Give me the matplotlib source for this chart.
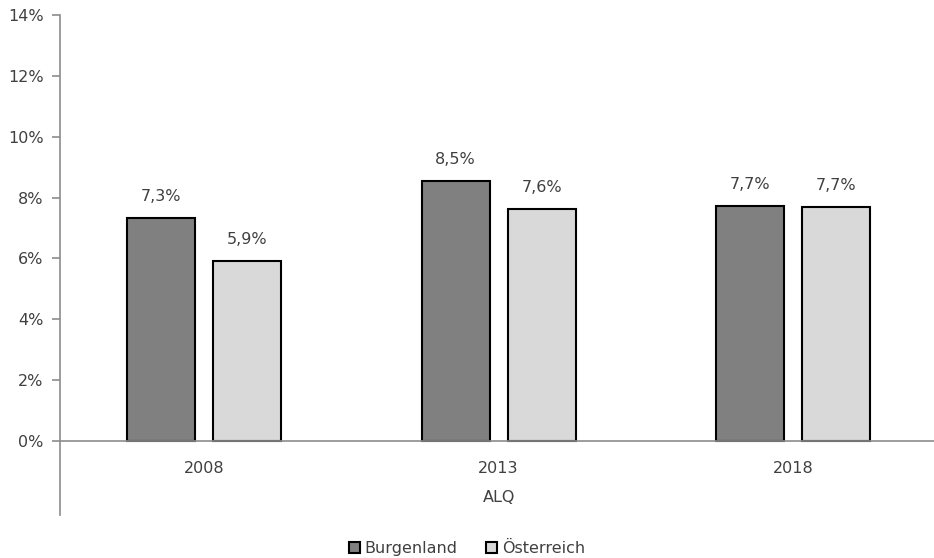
import matplotlib.pyplot as plt
import numpy as np

years = ['2008', '2013', '2018']
burgenland = [7.33, 8.54, 7.74]
oesterreich = [5.93, 7.62, 7.69]
series_names = ['Burgenland', 'Österreich']
axis_title = 'ALQ'

plt.rcParams['font.family'] = ['DejaVu Sans']

fig = plt.figure(figsize=(9.34, 5.58), dpi=100)
ax = fig.add_axes([0.0645, 0.0771, 0.9355, 0.896])

x = np.arange(len(years))
w = 0.231
off = 0.146
b1 = ax.bar(x - off, burgenland, w, color='#808080', edgecolor='black', linewidth=1.5,
            label=series_names[0], zorder=3)
b2 = ax.bar(x + off, oesterreich, w, color='#d9d9d9', edgecolor='black', linewidth=1.5,
            label=series_names[1], zorder=3)

# value labels
for bars, vals in ((b1, burgenland), (b2, oesterreich)):
    for r, v in zip(bars, vals):
        txt = ('%.1f%%' % v).replace('.', ',')
        ax.text(r.get_x() + r.get_width() / 2, v + 0.45, txt, ha='center', va='bottom',
                fontsize=11.5, color='#404040')

ax.set_xlim(-0.488, 2.478)
ax.set_ylim(-2.43, 14)
ax.set_yticks(np.arange(0, 15, 2))
ax.set_yticklabels(['%d%%' % t for t in range(0, 15, 2)], fontsize=11.5, color='#404040')
ax.set_xticks([])

for s in ['top', 'right', 'bottom']:
    ax.spines[s].set_visible(False)
ax.spines['left'].set_color('#8c8c8c')
ax.spines['left'].set_linewidth(1.2)
ax.tick_params(axis='y', length=6, width=1.2, color='#8c8c8c', pad=6)
ax.axhline(0, color='#8c8c8c', linewidth=1.2, zorder=4)

# category labels under the zero line
for xi, yr in zip(x, years):
    ax.text(xi, -0.9, yr, ha='center', va='center', fontsize=11.5, color='#404040')
ax.text(x[1], -1.85, axis_title, ha='center', va='center', fontsize=11.5, color='#404040')

fig.legend(handles=[b1, b2], labels=series_names, loc='lower center',
           bbox_to_anchor=(0.5, -0.022), ncol=2, frameon=False, fontsize=11.5,
           handlelength=0.7, handleheight=0.7, handletextpad=0.3, columnspacing=1.8,
           labelcolor='#404040')

fig.savefig('out.png', dpi=100)
